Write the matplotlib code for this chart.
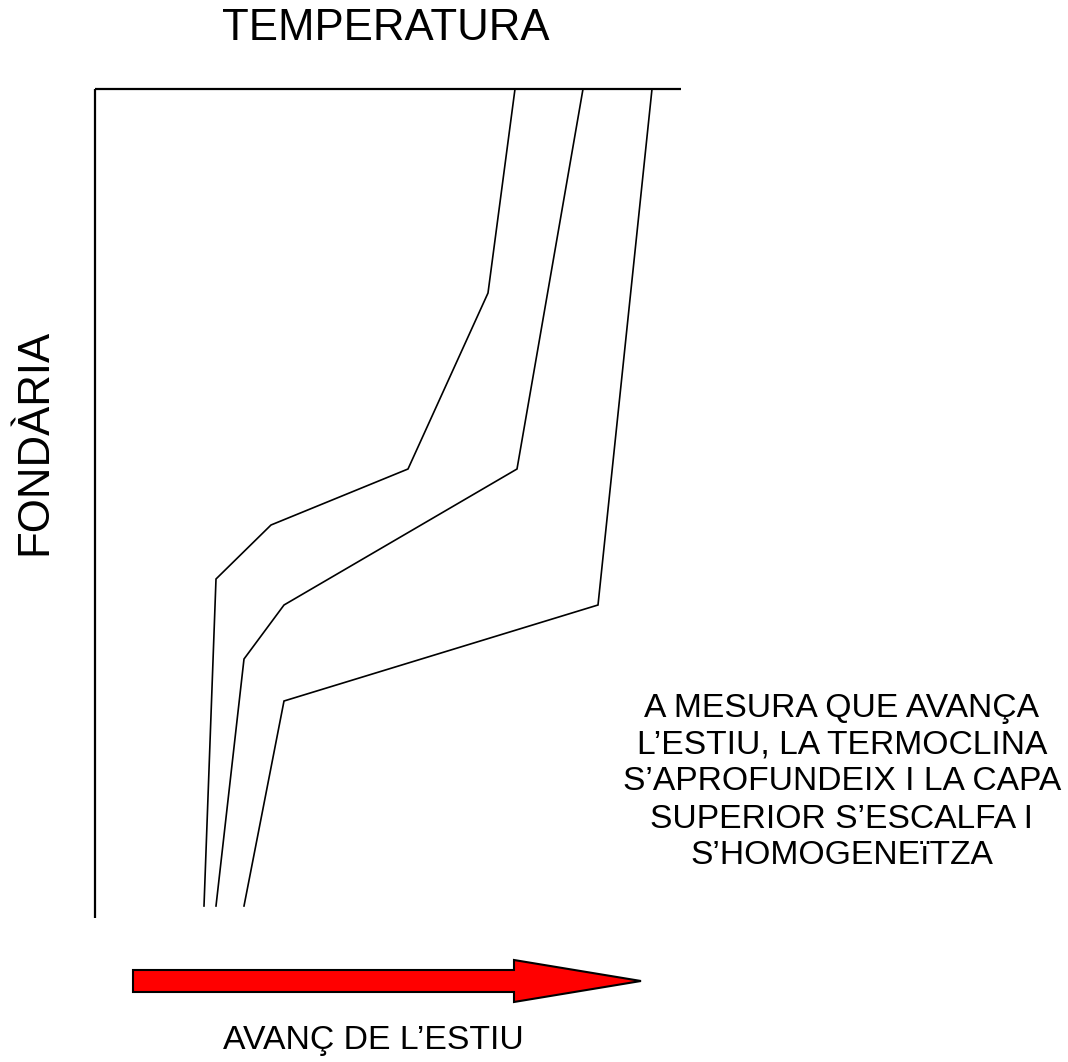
import matplotlib
matplotlib.use("Agg")
import matplotlib.pyplot as plt
from matplotlib.patches import FancyArrow

plt.rcParams['font.family'] = ['Liberation Sans', 'DejaVu Sans']

# Temperature profiles (x = temperature, y = depth), drawing units
early_temp = [515, 488, 408, 271, 216, 204]
early_depth = [89, 293, 469, 525, 579, 906]
mid_temp = [583, 517, 284, 244, 216]
mid_depth = [89, 469, 605, 659, 906]
late_temp = [652, 598, 284, 244]
late_depth = [89, 605, 701, 906]

title_text = "TEMPERATURA"
ylabel_text = "FONDÀRIA"
arrow_label = "AVANÇ DE L’ESTIU"
note_text = ("A MESURA QUE AVANÇA\nL’ESTIU, LA TERMOCLINA\n"
             "S’APROFUNDEIX I LA CAPA\nSUPERIOR S’ESCALFA I\nS’HOMOGENEïTZA")

fig = plt.figure(figsize=(10.68, 10.62), dpi=100)
ax = fig.add_axes([0, 0, 1, 1])
ax.set_xlim(0, 1068)
ax.set_ylim(1062, 0)
ax.axis('off')

# Frame: top axis line and left axis line
ax.plot([95, 681], [89, 89], color='black', lw=1.6, solid_capstyle='butt')
ax.plot([95, 95], [89, 918], color='black', lw=1.6, solid_capstyle='butt')

for t, d in [(early_temp, early_depth), (mid_temp, mid_depth), (late_temp, late_depth)]:
    ax.plot(t, d, color='black', lw=1.2, solid_joinstyle='miter')

arrow = FancyArrow(133, 981, 508, 0, width=22, head_width=42, head_length=127,
                   length_includes_head=True, facecolor='#ff0000',
                   edgecolor='black', lw=1.5)
ax.add_patch(arrow)

ax.text(386, 29, title_text, ha='center', va='center', fontsize=31.5)
ax.text(35, 442, ylabel_text, ha='center', va='center', rotation=90, fontsize=31.5)
ax.text(373, 1040, arrow_label, ha='center', va='center', fontsize=24.3)
ax.text(842, 782, note_text, ha='center', va='center', fontsize=24.2,
        linespacing=1.25, multialignment='center')

fig.savefig("out.png", dpi=100)
